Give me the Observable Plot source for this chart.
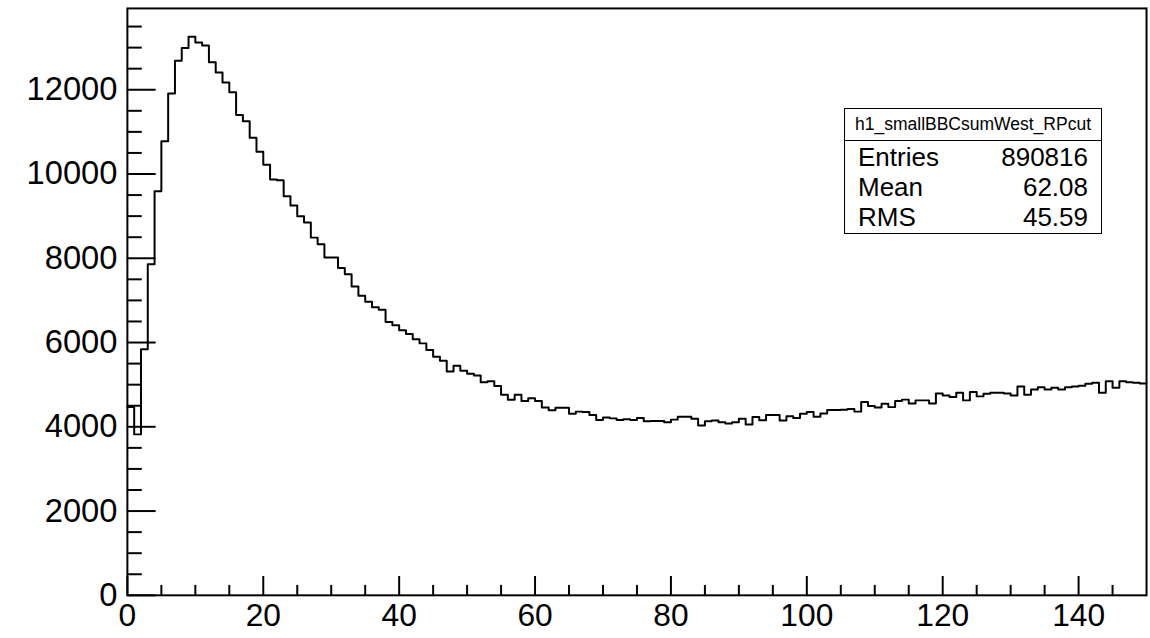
<!DOCTYPE html>
<html>
<head>
<meta charset="utf-8">
<script src="https://cdn.jsdelivr.net/npm/d3@7"></script>
<script src="https://cdn.jsdelivr.net/npm/@observablehq/plot@0.6"></script>
<style>
  html, body { margin: 0; padding: 0; background: #fff; overflow: hidden; }
  #wrap { position: relative; width: 1150px; height: 638px; overflow: hidden;
          font-family: "Liberation Sans", Arial, Helvetica, sans-serif; color: #000; }
  #stats { position: absolute; left: 844px; top: 108px; width: 258px; height: 126px;
           box-sizing: border-box; border: 1.5px solid #000; background: #fff; }
  #stats .title { height: 32px; box-sizing: border-box; border-bottom: 1.5px solid #000;
                  font-size: 17.5px; line-height: 30px; text-align: center; white-space: nowrap; }
  #stats .rows { padding: 1px 13px 0 13px; }
  #stats .row { display: flex; justify-content: space-between; font-size: 26px; line-height: 30px; }
</style>
</head>
<body>
<div id="wrap"></div>
<script>
// ---- data ----
const histName = "h1_smallBBCsumWest_RPcut";
const statLabels = ["Entries", "Mean", "RMS"];
const statValues = ["890816", "62.08", "45.59"];

// bin low edges: 0..149, bin width 1
const binCounts = [
  4470, 3820, 5840, 7860, 9590, 10780, 11910, 12690, 12990, 13260,
  13120, 13050, 12650, 12410, 12170, 11940, 11400, 11250, 10860, 10530,
  10220, 9870, 9850, 9470, 9250, 9000, 8850, 8490, 8330, 8020,
  8020, 7770, 7620, 7330, 7110, 6970, 6840, 6780, 6490, 6410,
  6290, 6200, 6080, 5980, 5820, 5660, 5570, 5310, 5450, 5330,
  5260, 5220, 5060, 5080, 4970, 4760, 4640, 4760, 4610, 4680,
  4610, 4460, 4390, 4450, 4450, 4310, 4360, 4350, 4280, 4160,
  4220, 4200, 4160, 4180, 4160, 4210, 4130, 4140, 4140, 4110,
  4170, 4240, 4240, 4190, 4030, 4130, 4150, 4110, 4080, 4110,
  4190, 4055, 4235, 4157, 4280, 4280, 4150, 4250, 4210, 4310,
  4350, 4240, 4314, 4400, 4400, 4405, 4420, 4360, 4590, 4494,
  4460, 4545, 4467, 4610, 4645, 4555, 4627, 4627, 4555, 4790,
  4745, 4706, 4808, 4627, 4824, 4722, 4784, 4808, 4808, 4792,
  4745, 4957, 4761, 4886, 4941, 4886, 4925, 4886, 4941, 4957,
  4973, 5020, 5043, 4808, 5082, 4925, 5082, 5059, 5043, 5030
];
const xMin = 0, xMax = 150, yMax = 13930;
const xMajorTicks = [0, 20, 40, 60, 80, 100, 120, 140];
const xMinorTicks = [5, 10, 15, 25, 30, 35, 45, 50, 55, 65, 70, 75, 85, 90, 95, 105, 110, 115, 125, 130, 135, 145];
const yMajorTicks = [0, 2000, 4000, 6000, 8000, 10000, 12000];
const yMinorTicks = [500, 1000, 1500, 2500, 3000, 3500, 4500, 5000, 5500, 6500, 7000, 7500,
                     8500, 9000, 9500, 10500, 11000, 11500, 12500, 13000, 13500];

// ---- build ----
const W = 1160, H = 638, mL = 128, mR = 4, mT = 8, mB = 38;
const frameW = W - mL - mR, frameH = H - mT - mB;
const steps = binCounts.map((v, i) => ({x: xMin + i, y: v}));
steps.push({x: xMax, y: binCounts[binCounts.length - 1]});

const fmt = d => String(d);
const chart = Plot.plot({
  width: W,
  height: H,
  marginLeft: mL,
  marginRight: mR,
  marginTop: mT,
  marginBottom: mB,
  x: {domain: [xMin, xMax]},
  y: {domain: [0, yMax]},
  style: {fontFamily: "'Liberation Sans', Arial, Helvetica, sans-serif", background: "white", color: "black"},
  marks: [
    Plot.axisX({ticks: xMajorTicks, tickSize: 0, tickPadding: 8, fontSize: 32, tickFormat: fmt, label: null}),
    Plot.axisY({ticks: yMajorTicks, tickSize: 0, tickPadding: 10, fontSize: 33, tickFormat: fmt, label: null}),
    // tick marks drawn inside the frame (ROOT style)
    Plot.tickX(xMajorTicks, {x: d => d, insetTop: frameH - 19, stroke: "black", strokeWidth: 2}),
    Plot.tickX(xMinorTicks, {x: d => d, insetTop: frameH - 10, stroke: "black", strokeWidth: 2}),
    Plot.tickY(yMajorTicks, {y: d => d, insetRight: frameW - 29, stroke: "black", strokeWidth: 2}),
    Plot.tickY(yMinorTicks, {y: d => d, insetRight: frameW - 15, stroke: "black", strokeWidth: 2}),
    Plot.line(steps, {x: "x", y: "y", curve: "step-after", stroke: "black", strokeWidth: 2}),
    Plot.frame({stroke: "black", strokeWidth: 2})
  ]
});

const wrap = document.getElementById("wrap");
wrap.appendChild(chart);

const stats = document.createElement("div");
stats.id = "stats";
const title = document.createElement("div");
title.className = "title";
title.textContent = histName;
stats.appendChild(title);
const rows = document.createElement("div");
rows.className = "rows";
statLabels.forEach((lab, i) => {
  const r = document.createElement("div");
  r.className = "row";
  const a = document.createElement("span"); a.textContent = lab;
  const b = document.createElement("span"); b.textContent = statValues[i];
  r.appendChild(a); r.appendChild(b);
  rows.appendChild(r);
});
stats.appendChild(rows);
wrap.appendChild(stats);
</script>
</body>
</html>
